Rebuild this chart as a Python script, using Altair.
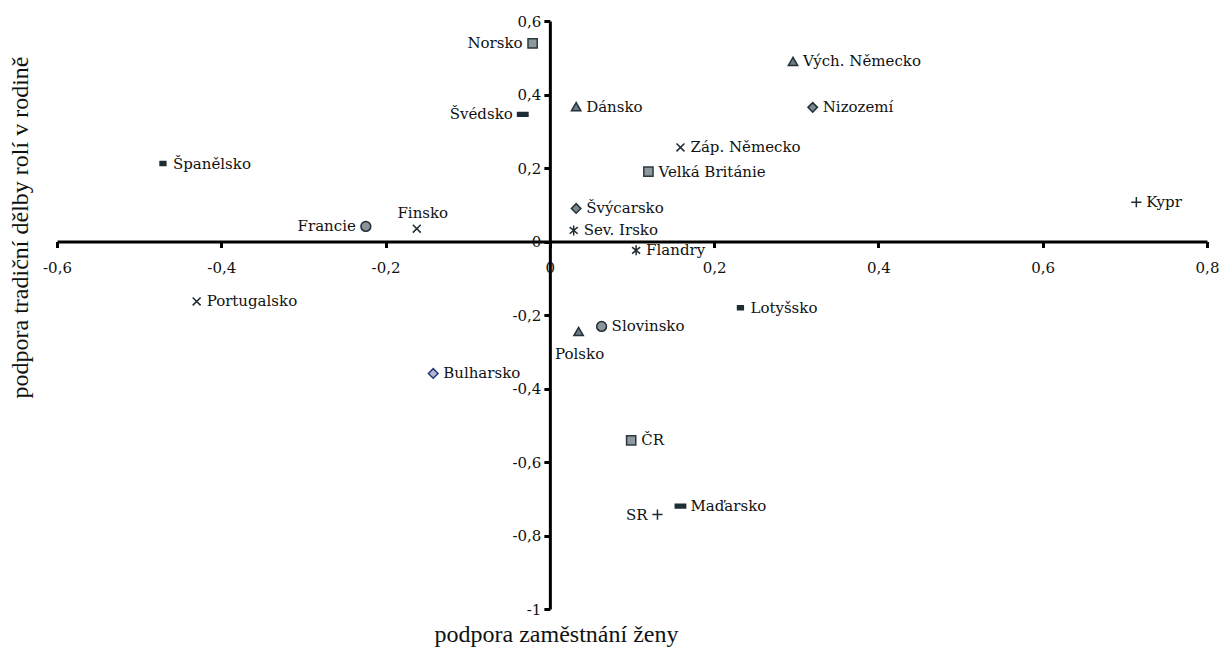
import altair as alt
import pandas as pd

# --- data ---
zeme = ["Norsko", "Švédsko", "Dánsko", "Vých. Německo", "Nizozemí", "Záp. Německo",
        "Velká Británie", "Španělsko", "Francie", "Finsko", "Portugalsko", "Švýcarsko",
        "Sev. Irsko", "Flandry", "Polsko", "Slovinsko", "Bulharsko", "ČR", "SR",
        "Maďarsko", "Lotyšsko", "Kypr"]
zamestnani = [-0.021, -0.033, 0.032, 0.296, 0.320, 0.159,
              0.120, -0.471, -0.224, -0.162, -0.430, 0.032,
              0.029, 0.105, 0.035, 0.063, -0.142, 0.099, 0.131,
              0.159, 0.232, 0.714]
role = [0.539, 0.346, 0.367, 0.490, 0.365, 0.256,
        0.190, 0.212, 0.041, 0.035, -0.163, 0.090,
        0.030, -0.024, -0.245, -0.231, -0.359, -0.541, -0.743,
        -0.720, -0.180, 0.107]
skupina = ["čtverec", "pomlčka", "trojúhelník", "trojúhelník", "kosočtverec", "křížek",
           "čtverec", "pomlčka malá", "kruh", "křížek", "křížek", "kosočtverec",
           "hvězdička", "hvězdička", "trojúhelník", "kruh", "kosočtverec modrý", "čtverec", "plus",
           "pomlčka", "pomlčka malá", "plus"]

x_ticks = [-0.6, -0.4, -0.2, 0, 0.2, 0.4, 0.6, 0.8]
y_ticks = [-1, -0.8, -0.6, -0.4, -0.2, 0, 0.2, 0.4, 0.6]

# --- label placement (style) ---
labels_left = ["Norsko", "Švédsko", "Francie", "SR"]
labels_above = ["Finsko"]
labels_below = ["Polsko"]
labels_right = [z for z in zeme if z not in labels_left + labels_above + labels_below]

df = pd.DataFrame({"zeme": zeme, "x": zamestnani, "y": role, "skupina": skupina})

# --- marker styles per group ---
grp = ["čtverec", "trojúhelník", "kosočtverec", "kosočtverec modrý", "kruh",
       "křížek", "hvězdička", "plus", "pomlčka", "pomlčka malá"]
shapes = ["square", "triangle-up", "diamond", "diamond", "circle",
          "M-0.8,-0.8L0.8,0.8M-0.8,0.8L0.8,-0.8",
          "M-0.8,-0.65L0.8,0.65M-0.8,0.65L0.8,-0.65M0,-1L0,1",
          "M-1,0L1,0M0,-1L0,1",
          "M-1,-0.35L1,-0.35L1,0.35L-1,0.35Z",
          "M-0.55,-0.38L0.55,-0.38L0.55,0.38L-0.55,0.38Z"]
fills = ["#8f989d", "#6d7b83", "#7d878d", "#b2b8d2", "#8b9499",
         "transparent", "transparent", "transparent", "#1e2c34", "#1e2c34"]
strokes = ["#2a383f", "#22313a", "#22313a", "#27367a", "#1e2c34",
           "#1e2c34", "#1e2c34", "#1e2c34", "#1e2c34", "#1e2c34"]
sizes = [85, 110, 80, 110, 85, 120, 120, 110, 95, 95]
swidths = [1.5, 1.5, 1.5, 1.8, 1.5, 2.0, 2.0, 2.2, 0, 0]

LABEL_FONT = "DejaVu Serif"
TITLE_FONT = "Liberation Serif"
label_expr = "(datum.value < 0 ? '-' : '') + replace(format(abs(datum.value), '~g'), '.', ',')"

xscale = alt.Scale(domain=[-0.6, 0.8], nice=False, zero=False)
yscale = alt.Scale(domain=[-1, 0.6], nice=False, zero=False)

W, H = 1150, 588
x_zero_off = -(H - H * 0.6 / 1.6)
y_zero_off = -(W * 0.6 / 1.4)

base = alt.Chart(df)

points = base.mark_point(filled=True, opacity=1).encode(
    x=alt.X("x:Q", scale=xscale,
            axis=alt.Axis(values=x_ticks, labelExpr=label_expr, offset=x_zero_off,
                          title="podpora zaměstnání ženy", titleX=499, titleY=393,
                          titleBaseline="middle", titleAlign="center",
                          labelPadding=13, labelFlush=False, labelOverlap=False)),
    y=alt.Y("y:Q", scale=yscale,
            axis=alt.Axis(values=y_ticks, labelExpr=label_expr, offset=y_zero_off,
                          title="podpora tradiční dělby rolí v rodině", titleX=-529, titleY=206,
                          titleAngle=270, titleBaseline="middle", titleAlign="center",
                          labelPadding=3, labelFlush=False, labelOverlap=False)),
    shape=alt.Shape("skupina:N", scale=alt.Scale(domain=grp, range=shapes), legend=None),
    fill=alt.Fill("skupina:N", scale=alt.Scale(domain=grp, range=fills), legend=None),
    stroke=alt.Stroke("skupina:N", scale=alt.Scale(domain=grp, range=strokes), legend=None),
    size=alt.Size("skupina:N", scale=alt.Scale(domain=grp, range=sizes), legend=None),
    strokeWidth=alt.StrokeWidth("skupina:N", scale=alt.Scale(domain=grp, range=swidths), legend=None),
)

def label_layer(names, **kw):
    return base.transform_filter(
        alt.FieldOneOfPredicate(field="zeme", oneOf=names)
    ).mark_text(font=LABEL_FONT, fontSize=15, color="#111111", **kw).encode(
        x=alt.X("x:Q", scale=xscale),
        y=alt.Y("y:Q", scale=yscale),
        text="zeme:N",
    )

t_right = label_layer(labels_right, align="left", baseline="middle", dx=10)
t_left = label_layer(labels_left, align="right", baseline="middle", dx=-10)
t_above = label_layer(labels_above, align="center", baseline="middle", dx=6, dy=-16)
t_below = label_layer(labels_below, align="center", baseline="middle", dx=1, dy=22)

chart = alt.layer(points, t_right, t_left, t_above, t_below).properties(
    width=W, height=H,
    autosize=alt.AutoSizeParams(type="none"),
    padding={"left": 49, "top": 13, "right": 12, "bottom": 42},
).configure_view(stroke=None).configure_axis(
    grid=False,
    domainColor="#000000", domainWidth=3,
    tickColor="#000000", tickWidth=3, tickSize=6,
    labelFont=LABEL_FONT, labelFontSize=15, labelColor="#111111",
    titleFont=TITLE_FONT, titleFontSize=24, titleFontWeight="normal", titleColor="#111111",
)

chart.save("out.html", embed_options={"renderer": "svg", "actions": False})
